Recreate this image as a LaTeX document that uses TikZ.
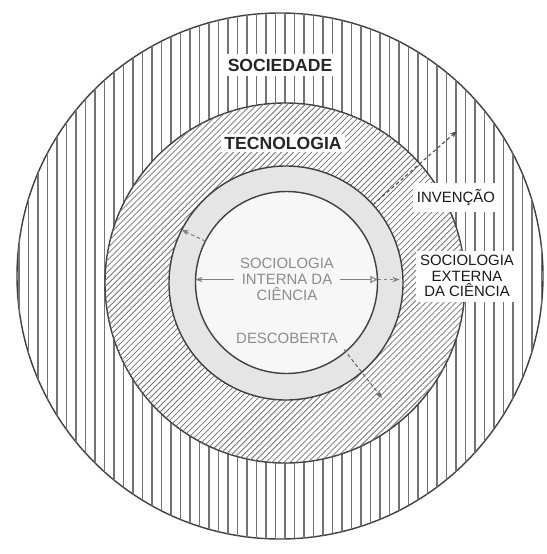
\documentclass[tikz,border=0pt]{standalone}
\usepackage{fontspec}
\setmainfont{Liberation Sans}
\usetikzlibrary{arrows.meta,patterns.meta}

\begin{document}
\begin{tikzpicture}[
    scDisc/.style={circle, draw=black!75, line width=0.8pt, inner sep=0pt, outer sep=0pt},
    scBoldLabel/.style={fill=white, inner xsep=2pt, inner ysep=3pt, font=\bfseries\fontsize{10}{12}\selectfont, text=black!85},
    scSideLabel/.style={fill=white, inner sep=2.5pt, align=center, font=\fontsize{8.5}{9}\selectfont, text=black!90},
    scInnerLabel/.style={align=center, font=\fontsize{8.5}{9}\selectfont, text=black!45},
    scArrow/.style={draw=black!50, line width=0.6pt, -{Stealth[length=4pt,width=3pt]}},
    scDotArrow/.style={scArrow, dash pattern=on 2pt off 1.5pt}
]
\useasboundingbox (0,0) rectangle (10.94,-11.08);

% rings, from the outside in
\node[scDisc, minimum size=10.52cm, fill=white,
      postaction={pattern={Lines[angle=90, distance=0.19cm, line width=0.9pt]}, pattern color=black!55}] (sociedadeDisc) at (5.60,-5.52) {};
\node[scDisc, minimum size=7.2cm, fill=white,
      postaction={pattern={Lines[angle=45, distance=0.085cm, line width=0.45pt]}, pattern color=black!55}] (tecnologiaDisc) at (5.70,-5.66) {};
\node[scDisc, minimum size=4.68cm, fill=black!10] (middleDisc) at (5.72,-5.66) {};
\node[scDisc, minimum size=3.64cm, fill=black!3] (innerDisc) at (5.73,-5.65) {};

% labels
\node[scBoldLabel] (sociedadeLbl) at (5.60,-1.30) {SOCIEDADE};
\node[scBoldLabel, inner ysep=1.5pt] (tecnologiaLbl) at (5.66,-2.86) {TECNOLOGIA};
\node[scSideLabel, inner ysep=3.5pt] (invencaoLbl) at (9.12,-3.95) {INVENÇÃO};
\node[scSideLabel] (externaLbl) at (9.34,-5.52) {SOCIOLOGIA\\EXTERNA\\DA CIÊNCIA};
\node[scInnerLabel] (internaLbl) at (5.74,-5.59) {SOCIOLOGIA\\INTERNA DA\\CIÊNCIA};
\node[scInnerLabel] (descobertaLbl) at (5.74,-6.76) {DESCOBERTA};

% arrows
\coordinate (invTip) at (9.14,-2.62);
\coordinate (descTip) at (7.64,-7.96);
\draw[scArrow] (internaLbl.west) -- (internaLbl.west -| innerDisc.west);
\draw[scArrow, -{Triangle[open,length=4pt,width=4pt]}] (internaLbl.east) -- (internaLbl.east -| innerDisc.east);
\draw[scDotArrow, shorten >=2pt] (internaLbl.east -| innerDisc.east) -- (internaLbl.east -| middleDisc.east);
\draw[scDotArrow] (innerDisc.153) -- (middleDisc.153);
\draw[scDotArrow, draw=black!70] (middleDisc.42) -- (invTip);
\draw[scDotArrow, draw=black!60] (descobertaLbl.south east) -- (descTip);
\end{tikzpicture}
\end{document}
